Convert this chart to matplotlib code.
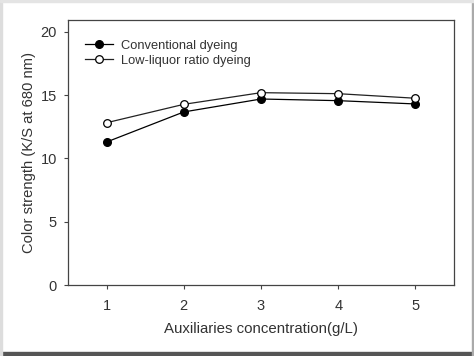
import matplotlib
matplotlib.use('Agg')
import matplotlib.pyplot as plt
from matplotlib.patches import Rectangle

# auxiliaries concentration (g/L) and K/S values
conc = [1, 2, 3, 4, 5]
conventional = [11.3, 13.67, 14.69, 14.56, 14.3]
low_liquor = [12.82, 14.27, 15.19, 15.11, 14.75]

plt.rcParams['font.family'] = ['Liberation Sans', 'DejaVu Sans']
txt = '#333333'

fig = plt.figure(figsize=(4.74, 3.56), dpi=100)
ax = fig.add_axes([68/474, 1 - 285.3/356, (454 - 68)/474, (285.3 - 20)/356])

ax.plot(conc, conventional, '-o', color='black', lw=0.9, ms=5.5,
        mfc='black', mec='black', label='Conventional dyeing')
ax.plot(conc, low_liquor, '-o', color='#222222', lw=0.9, ms=5.5,
        mfc='white', mec='black', mew=0.9, label='Low-liquor ratio dyeing')

ax.set_xlim(0.5, 5.5)
ax.set_ylim(0, 20.92)
ax.set_xticks(conc)
ax.set_yticks([0, 5, 10, 15, 20])
ax.tick_params(direction='out', length=3, width=0.8, colors='#444444',
               labelcolor=txt, labelsize=10.5, top=False, right=False)
ax.tick_params(axis='x', pad=7)
ax.tick_params(axis='y', pad=5)
for s in ax.spines.values():
    s.set_color('#444444')
    s.set_linewidth(0.9)

ax.set_xlabel('Auxiliaries concentration(g/L)', fontsize=10.8, color=txt, labelpad=6)
ax.set_ylabel('Color strength (K/S at 680 nm)', fontsize=10.6, color=txt, labelpad=3)

ax.legend(loc='upper left', frameon=False, fontsize=9.3, handlelength=2.2,
          handletextpad=0.6, labelspacing=0.22, borderaxespad=0.5,
          bbox_to_anchor=(0.013, 0.97), labelcolor=txt)

# image border strips
fig.patches.append(Rectangle((0, 0), 1, 4/356, transform=fig.transFigure,
                             color='#555555', zorder=0))
fig.patches.append(Rectangle((1 - 2/474, 0), 2/474, 1, transform=fig.transFigure,
                             color='#aaaaaa', zorder=0))
fig.patches.append(Rectangle((0, 0), 2/474, 1, transform=fig.transFigure,
                             color='#dddddd', zorder=0))
fig.patches.append(Rectangle((0, 1 - 2/356), 1, 2/356, transform=fig.transFigure,
                             color='#e4e4e4', zorder=0))

fig.savefig('out.png', dpi=100)
